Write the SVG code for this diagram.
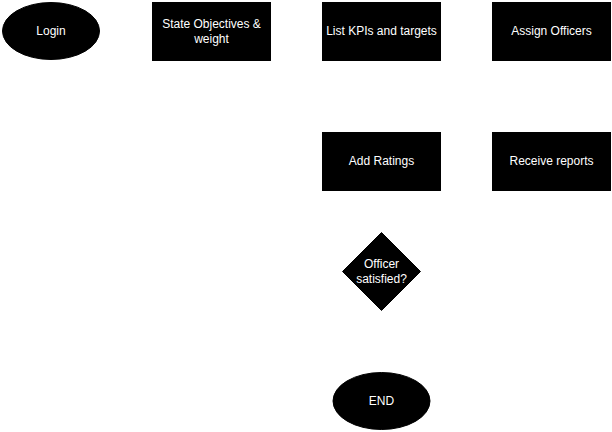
<svg xmlns="http://www.w3.org/2000/svg" width="612" height="432" viewBox="0 0 612 432">
<style>
.shape{fill:#000000;stroke:#000000;stroke-width:1}
.label{fill:#ffffff;font-family:"Liberation Sans",Arial,sans-serif;font-size:12px;text-anchor:middle;dominant-baseline:central}
</style>
<rect x="0" y="0" width="612" height="432" fill="#ffffff"/>
<g id="connectors"></g>
<g id="login">
<ellipse class="shape" cx="51" cy="31" rx="48.5" ry="28.5"/>
<text class="label" x="51" y="31">Login</text>
</g>
<g id="state-objectives">
<rect class="shape" x="152.5" y="2.5" width="118" height="58"/>
<text class="label" x="211.5" y="24">State Objectives &amp;</text>
<text class="label" x="211.5" y="39">weight</text>
</g>
<g id="list-kpis">
<rect class="shape" x="322.5" y="2.5" width="118" height="58"/>
<text class="label" x="381.5" y="31">List KPIs and targets</text>
</g>
<g id="assign-officers">
<rect class="shape" x="492.5" y="2.5" width="118" height="58"/>
<text class="label" x="551.5" y="31">Assign Officers</text>
</g>
<g id="add-ratings">
<rect class="shape" x="322.5" y="132.5" width="118" height="58"/>
<text class="label" x="381.5" y="161">Add Ratings</text>
</g>
<g id="receive-reports">
<rect class="shape" x="492.5" y="132.5" width="118" height="58"/>
<text class="label" x="551.5" y="161">Receive reports</text>
</g>
<g id="officer-satisfied">
<polygon class="shape" points="381.5,232.5 420.5,271.5 381.5,310.5 342.5,271.5"/>
<text class="label" x="381.5" y="264">Officer</text>
<text class="label" x="381.5" y="279">satisfied?</text>
</g>
<g id="end">
<ellipse class="shape" cx="381.5" cy="401" rx="48.5" ry="28.5"/>
<text class="label" x="381.5" y="401">END</text>
</g>
</svg>
